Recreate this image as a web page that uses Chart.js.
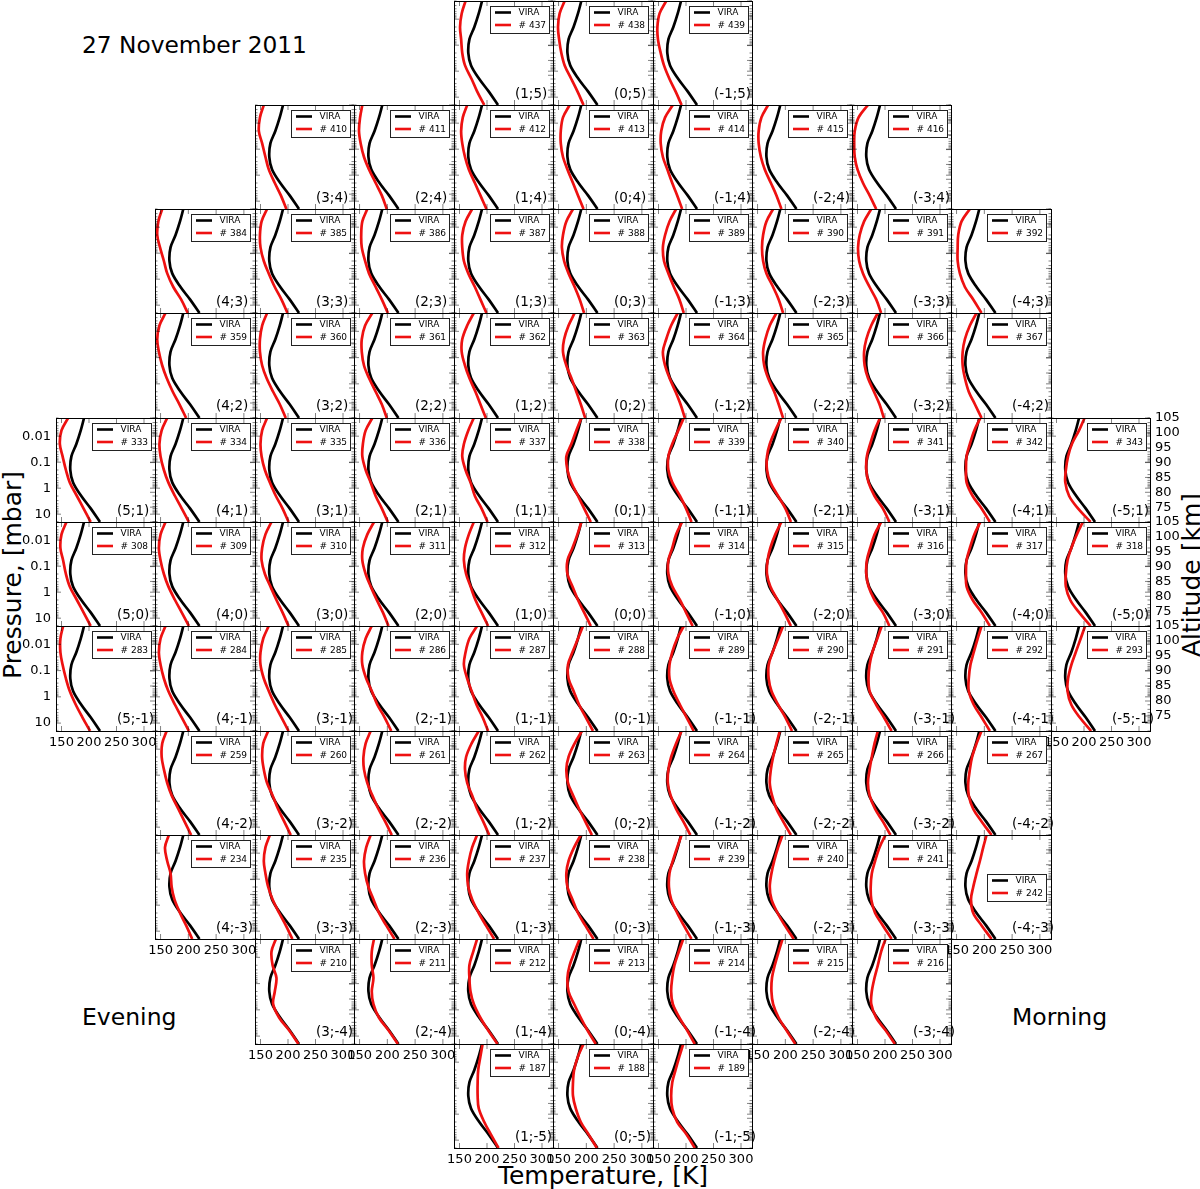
<!DOCTYPE html>
<html>
<head>
<meta charset="utf-8">
<script src="https://cdn.jsdelivr.net/npm/chart.js@4.4.1/dist/chart.umd.min.js"></script>
<style>
  body { margin: 0; background: #fff; }
  #fig { position: relative; width: 1200px; height: 1189px; overflow: hidden; background: #fff;
         font-family: "DejaVu Sans", sans-serif; }
  #fig canvas { position: absolute; }
  .txt { position: absolute; white-space: nowrap; color: #000; line-height: 1; }
</style>
</head>
<body>
<div id="fig">
  <div class="txt" style="left:82px;top:32.5px;font-size:23.3px">27 November 2011</div>
  <div class="txt" style="left:82px;top:1006px;font-size:23.5px">Evening</div>
  <div class="txt" style="left:1012px;top:1006px;font-size:23.5px">Morning</div>
  <div class="txt" style="left:603px;top:1163px;font-size:25px;transform:translateX(-50%)">Temperature, [K]</div>
  <div class="txt" style="left:12.4px;top:575px;font-size:25px;transform:translate(-50%,-50%) rotate(-90deg)">Pressure, [mbar]</div>
  <div class="txt" style="left:1191px;top:575px;font-size:25px;transform:translate(-50%,-50%) rotate(-90deg)">Altitude [km]</div>
</div>
<script>
// --- data ---
// pressure levels (mbar) at which the profiles were sampled
const PRESSURE = [0.002, 0.006, 0.02, 0.06, 0.2, 0.6, 2, 6, 20];
// VIRA reference temperature profile (K), same in every panel
const VIRA = [191, 185, 177, 168, 166, 171, 186, 203, 220];

// rows of the mosaic, top to bottom; each row spans x = +n ... -n
const ROW_Y = [5, 4, 3, 2, 1, 0, -1, -2, -3, -4, -5];
const ROW_X_MAX = [1, 3, 4, 4, 5, 5, 5, 4, 4, 3, 1];
const ROW_FIRST_ID = [437, 410, 384, 359, 333, 308, 283, 259, 234, 210, 187];

// retrieved temperature profiles (K), one row of panels per array, x from +n to -n
const RED_ROW_P5 = [
  [161, 154, 151, 153, 155, 160, 172, 182, 195],
  [161, 152, 149, 151, 155, 161, 173, 184, 195],
  [164, 152, 148, 149, 154, 160, 170, 181, 192]
];
const RED_ROW_P4 = [
  [156, 149, 147, 153, 159, 165, 176, 187, 197],
  [155, 151, 149, 152, 158, 167, 179, 190, 199],
  [164, 156, 153, 155, 160, 167, 178, 188, 199],
  [170, 158, 154, 154, 158, 166, 176, 185, 195],
  [176, 162, 155, 154, 158, 166, 175, 184, 193],
  [169, 157, 152, 152, 156, 163, 174, 184, 193],
  [169, 152, 145, 144, 145, 150, 160, 172, 184]
];
const RED_ROW_P3 = [
  [153, 146, 144, 149, 156, 162, 173, 187, 199],
  [162, 152, 149, 150, 156, 165, 176, 188, 199],
  [164, 155, 153, 154, 160, 167, 179, 190, 201],
  [173, 161, 155, 155, 158, 166, 178, 188, 199],
  [176, 164, 158, 156, 160, 168, 179, 188, 196],
  [182, 170, 162, 158, 160, 168, 178, 188, 196],
  [178, 166, 160, 158, 160, 166, 178, 188, 196],
  [175, 162, 154, 151, 153, 160, 172, 184, 193],
  [174, 159, 153, 152, 152, 156, 165, 180, 195]
];
const RED_ROW_P2 = [
  [159, 148, 144, 147, 153, 161, 172, 184, 196],
  [162, 153, 149, 149, 153, 161, 173, 185, 196],
  [173, 160, 154, 154, 158, 167, 179, 190, 199],
  [176, 164, 155, 154, 160, 168, 179, 188, 198],
  [179, 168, 160, 158, 164, 173, 182, 190, 198],
  [185, 173, 164, 158, 162, 170, 181, 190, 198],
  [184, 172, 164, 160, 162, 169, 180, 188, 196],
  [187, 175, 166, 162, 163, 169, 180, 190, 198],
  [186, 174, 165, 161, 161, 165, 172, 183, 195]
];
const RED_ROW_P1 = [
  [162, 150, 147, 152, 158, 165, 178, 190, 203],
  [162, 152, 148, 150, 156, 164, 176, 188, 201],
  [162, 153, 150, 152, 158, 167, 178, 190, 201],
  [173, 161, 156, 155, 161, 170, 179, 190, 201],
  [176, 166, 158, 155, 161, 170, 178, 190, 201],
  [191, 182, 173, 164, 166, 173, 185, 196, 208],
  [196, 186, 175, 168, 168, 175, 189, 200, 210],
  [193, 182, 172, 167, 167, 173, 187, 200, 210],
  [191, 181, 173, 167, 166, 170, 181, 196, 208],
  [193, 182, 174, 168, 167, 168, 179, 195, 210],
  [201, 191, 178, 171, 167, 166, 173, 189, 212]
];
const RED_ROW_0 = [
  [159, 150, 148, 153, 158, 165, 178, 190, 203],
  [159, 150, 147, 150, 156, 164, 176, 188, 201],
  [170, 159, 153, 152, 158, 168, 179, 190, 201],
  [176, 164, 156, 155, 161, 170, 181, 192, 202],
  [176, 167, 160, 158, 162, 170, 179, 190, 202],
  [191, 184, 175, 166, 166, 175, 185, 196, 208],
  [193, 182, 175, 168, 168, 175, 189, 200, 212],
  [193, 182, 173, 168, 167, 173, 186, 198, 210],
  [193, 181, 173, 167, 166, 170, 181, 196, 208],
  [193, 182, 174, 168, 167, 168, 179, 195, 210],
  [198, 187, 177, 170, 167, 167, 175, 191, 212]
];
const RED_ROW_M1 = [
  [153, 148, 148, 152, 158, 165, 176, 188, 202],
  [159, 150, 147, 150, 156, 164, 176, 188, 201],
  [165, 155, 150, 150, 156, 165, 176, 188, 201],
  [172, 161, 155, 155, 162, 172, 182, 195, 207],
  [182, 168, 161, 158, 164, 172, 181, 192, 202],
  [194, 185, 175, 167, 168, 177, 187, 199, 212],
  [196, 184, 175, 170, 170, 177, 189, 201, 214],
  [196, 187, 177, 170, 170, 175, 187, 200, 212],
  [194, 186, 177, 172, 170, 172, 184, 198, 212],
  [195, 188, 181, 175, 172, 172, 181, 195, 210],
  [202, 194, 185, 177, 171, 170, 177, 192, 213]
];
const RED_ROW_M2 = [
  [161, 153, 152, 156, 162, 170, 182, 193, 205],
  [164, 155, 153, 156, 162, 172, 182, 193, 205],
  [170, 161, 157, 158, 164, 173, 184, 196, 208],
  [185, 172, 162, 160, 164, 173, 182, 193, 204],
  [192, 179, 168, 164, 167, 176, 187, 198, 210],
  [192, 182, 173, 168, 167, 172, 182, 195, 208],
  [190, 184, 178, 174, 172, 176, 184, 196, 210],
  [187, 181, 176, 172, 169, 172, 182, 196, 210],
  [195, 186, 178, 174, 171, 172, 180, 195, 213]
];
const RED_ROW_M3 = [
  [165, 158, 162, 168, 170, 175, 185, 196, 207],
  [167, 159, 156, 159, 164, 172, 184, 196, 208],
  [170, 162, 158, 160, 166, 175, 185, 198, 213],
  [182, 173, 167, 164, 166, 173, 185, 198, 213],
  [190, 178, 168, 164, 166, 175, 185, 198, 213],
  [192, 184, 176, 170, 169, 173, 184, 196, 210],
  [195, 187, 180, 175, 172, 175, 186, 199, 215],
  [201, 190, 182, 176, 174, 175, 182, 196, 212],
  [204, 198, 192, 186, 180, 176, 180, 195, 213]
];
const RED_ROW_M4 = [
  [178, 170, 172, 179, 176, 173, 184, 202, 219],
  [176, 172, 172, 175, 172, 175, 185, 202, 219],
  [182, 175, 168, 168, 170, 176, 188, 202, 219],
  [188, 179, 170, 166, 168, 178, 190, 202, 217],
  [195, 187, 179, 175, 173, 176, 188, 202, 216],
  [195, 188, 181, 176, 175, 178, 188, 202, 218],
  [201, 193, 187, 181, 176, 175, 184, 201, 218]
];
const RED_ROW_M5 = [
  [192, 188, 184, 183, 183, 185, 195, 207, 221],
  [195, 185, 178, 176, 176, 181, 190, 204, 219],
  [195, 188, 181, 175, 173, 175, 184, 201, 216]
];
const RED_ROWS = [RED_ROW_P5, RED_ROW_P4, RED_ROW_P3, RED_ROW_P2, RED_ROW_P1, RED_ROW_0,
                  RED_ROW_M1, RED_ROW_M2, RED_ROW_M3, RED_ROW_M4, RED_ROW_M5];

// axis ticks
const T_TICKS = [150, 200, 250, 300];
const P_TICKS = [0.01, 0.1, 1, 10];
const P_TICK_LABELS = ['0.01', '0.1', '1', '10'];
const ALT_TICKS = [75, 80, 85, 90, 95, 100, 105];
// panel whose legend sits lower
const LOW_LEGEND_IDS = [242];

// --- layout ---
const COL_X0 = 56, COL_W = 99.45, ROW_Y0 = 0.5, ROW_H = 104.3;
const PAD_L = 50, PAD_R = 42, PAD_T = 9, PAD_B = 28;
const FONT = '"DejaVu Sans", sans-serif';

const panelDeco = {
  id: 'panelDeco',
  afterDatasetsDraw(chart, args, o) {
    const { ctx, chartArea: a, scales } = chart;
    const sx = scales.x, sy = scales.y, sa = scales.alt;
    const w = a.right - a.left, h = a.bottom - a.top;
    ctx.save();
    ctx.strokeStyle = 'rgba(0,0,0,0.55)';
    ctx.lineWidth = 0.9;

    // log ticks, left and right, pointing in
    ctx.beginPath();
    for (let d = -3; d <= 1; d++) {
      for (let m = 1; m <= 9; m++) {
        const p = m * Math.pow(10, d);
        if (p < 0.002 || p > 20) continue;
        const y = sy.getPixelForValue(p);
        const len = m === 1 ? 5 : 2.5;
        ctx.moveTo(a.left, y); ctx.lineTo(a.left + len, y);
        ctx.moveTo(a.right, y); ctx.lineTo(a.right - len, y);
      }
    }
    // altitude ticks on the right
    ALT_TICKS.forEach(v => {
      const y = sa.getPixelForValue(v);
      ctx.moveTo(a.right, y); ctx.lineTo(a.right - 5, y);
    });
    // temperature ticks top and bottom
    T_TICKS.forEach(t => {
      const x = sx.getPixelForValue(t);
      ctx.moveTo(x, a.bottom); ctx.lineTo(x, a.bottom - 5);
      ctx.moveTo(x, a.top); ctx.lineTo(x, a.top + 5);
    });
    ctx.stroke();

    // frame
    ctx.strokeStyle = '#000';
    ctx.lineWidth = 1;
    ctx.strokeRect(a.left + 0.5, a.top + 0.5, w, h);

    // legend
    const lx = a.left + 36, ly = a.top + (o.lowLegend ? 39 : 5);
    ctx.fillStyle = '#fff';
    ctx.fillRect(lx, ly, 59, 27);
    ctx.strokeStyle = '#222';
    ctx.strokeRect(Math.round(lx) + 0.5, Math.round(ly) + 0.5, 59, 27);
    ctx.lineWidth = 2.6;
    ctx.strokeStyle = '#000';
    ctx.beginPath(); ctx.moveTo(lx + 5, ly + 6.5); ctx.lineTo(lx + 21, ly + 6.5); ctx.stroke();
    ctx.strokeStyle = '#ee1111';
    ctx.beginPath(); ctx.moveTo(lx + 5, ly + 19); ctx.lineTo(lx + 21, ly + 19); ctx.stroke();
    ctx.fillStyle = '#000';
    ctx.font = '9px ' + FONT;
    ctx.textBaseline = 'middle';
    ctx.textAlign = 'left';
    ctx.fillText('VIRA', lx + 28.5, ly + 6.8);
    ctx.fillText('# ' + o.id, lx + 28.5, ly + 19.3);

    // panel label
    ctx.font = '13.5px ' + FONT;
    ctx.textBaseline = 'alphabetic';
    ctx.fillText(o.label, a.left + 61, a.top + 97);

    // tick labels on the outer edges
    ctx.font = '13px ' + FONT;
    if (o.bottomLabels) {
      ctx.textAlign = 'center'; ctx.textBaseline = 'top';
      T_TICKS.forEach(t => ctx.fillText(String(t), sx.getPixelForValue(t), a.bottom + 5));
    }
    if (o.leftLabels) {
      ctx.textAlign = 'right'; ctx.textBaseline = 'middle';
      P_TICKS.forEach((p, i) => ctx.fillText(P_TICK_LABELS[i], a.left - 5, sy.getPixelForValue(p)));
    }
    if (o.rightLabels) {
      ctx.textAlign = 'left'; ctx.textBaseline = 'middle';
      ALT_TICKS.forEach(v => ctx.fillText(String(v), a.right + 5, sa.getPixelForValue(v)));
    }
    ctx.restore();
  }
};

const fig = document.getElementById('fig');

function makePanel(r, c, px, py, id, red, flags) {
  const left = Math.round(COL_X0 + c * COL_W), right = Math.round(COL_X0 + (c + 1) * COL_W);
  const top = Math.round(ROW_Y0 + r * ROW_H), bottom = Math.round(ROW_Y0 + (r + 1) * ROW_H);
  const w = right - left, h = bottom - top;
  const cw = PAD_L + w + PAD_R, ch = PAD_T + h + PAD_B;
  const cv = document.createElement('canvas');
  cv.width = cw; cv.height = ch;
  cv.style.left = (left - PAD_L) + 'px';
  cv.style.top = (top - PAD_T) + 'px';
  cv.style.width = cw + 'px';
  cv.style.height = ch + 'px';
  fig.appendChild(cv);

  new Chart(cv, {
    type: 'line',
    data: {
      datasets: [
        {
          label: 'VIRA',
          data: PRESSURE.map((p, i) => ({ x: VIRA[i], y: p })),
          borderColor: '#000', borderWidth: 2.7, pointRadius: 0, tension: 0.35,
          fill: false, clip: 0, order: 2
        },
        {
          label: '# ' + id,
          data: PRESSURE.map((p, i) => ({ x: red[i], y: p })),
          borderColor: '#ee1111', borderWidth: 2.7, pointRadius: 0, tension: 0.35,
          fill: false, clip: 0, order: 1
        }
      ]
    },
    options: {
      responsive: false,
      animation: false,
      devicePixelRatio: 1,
      events: [],
      layout: { padding: { left: PAD_L, right: PAD_R, top: PAD_T, bottom: PAD_B } },
      plugins: {
        legend: { display: false },
        tooltip: { enabled: false },
        panelDeco: {
          id: id,
          label: '(' + px + ';' + py + ')',
          lowLegend: LOW_LEGEND_IDS.includes(id),
          leftLabels: flags.left, rightLabels: flags.right, bottomLabels: flags.bottom
        }
      },
      scales: {
        x: { type: 'linear', min: 140, max: 320, display: false },
        y: { type: 'logarithmic', min: 0.002, max: 20, reverse: true, display: false },
        alt: { type: 'linear', axis: 'y', position: 'right', min: 70, max: 105, display: false }
      }
    },
    plugins: [panelDeco]
  });
}

ROW_Y.forEach((py, r) => {
  const n = ROW_X_MAX[r];
  for (let k = 0; k <= 2 * n; k++) {
    const px = n - k;
    const c = 5 - px;
    const lowest = r === ROW_Y.length - 1 || ROW_X_MAX[r + 1] < Math.abs(px);
    makePanel(r, c, px, py, ROW_FIRST_ID[r] + k, RED_ROWS[r][k], {
      left: px === 5, right: px === -5, bottom: lowest
    });
  }
});
</script>
</body>
</html>
